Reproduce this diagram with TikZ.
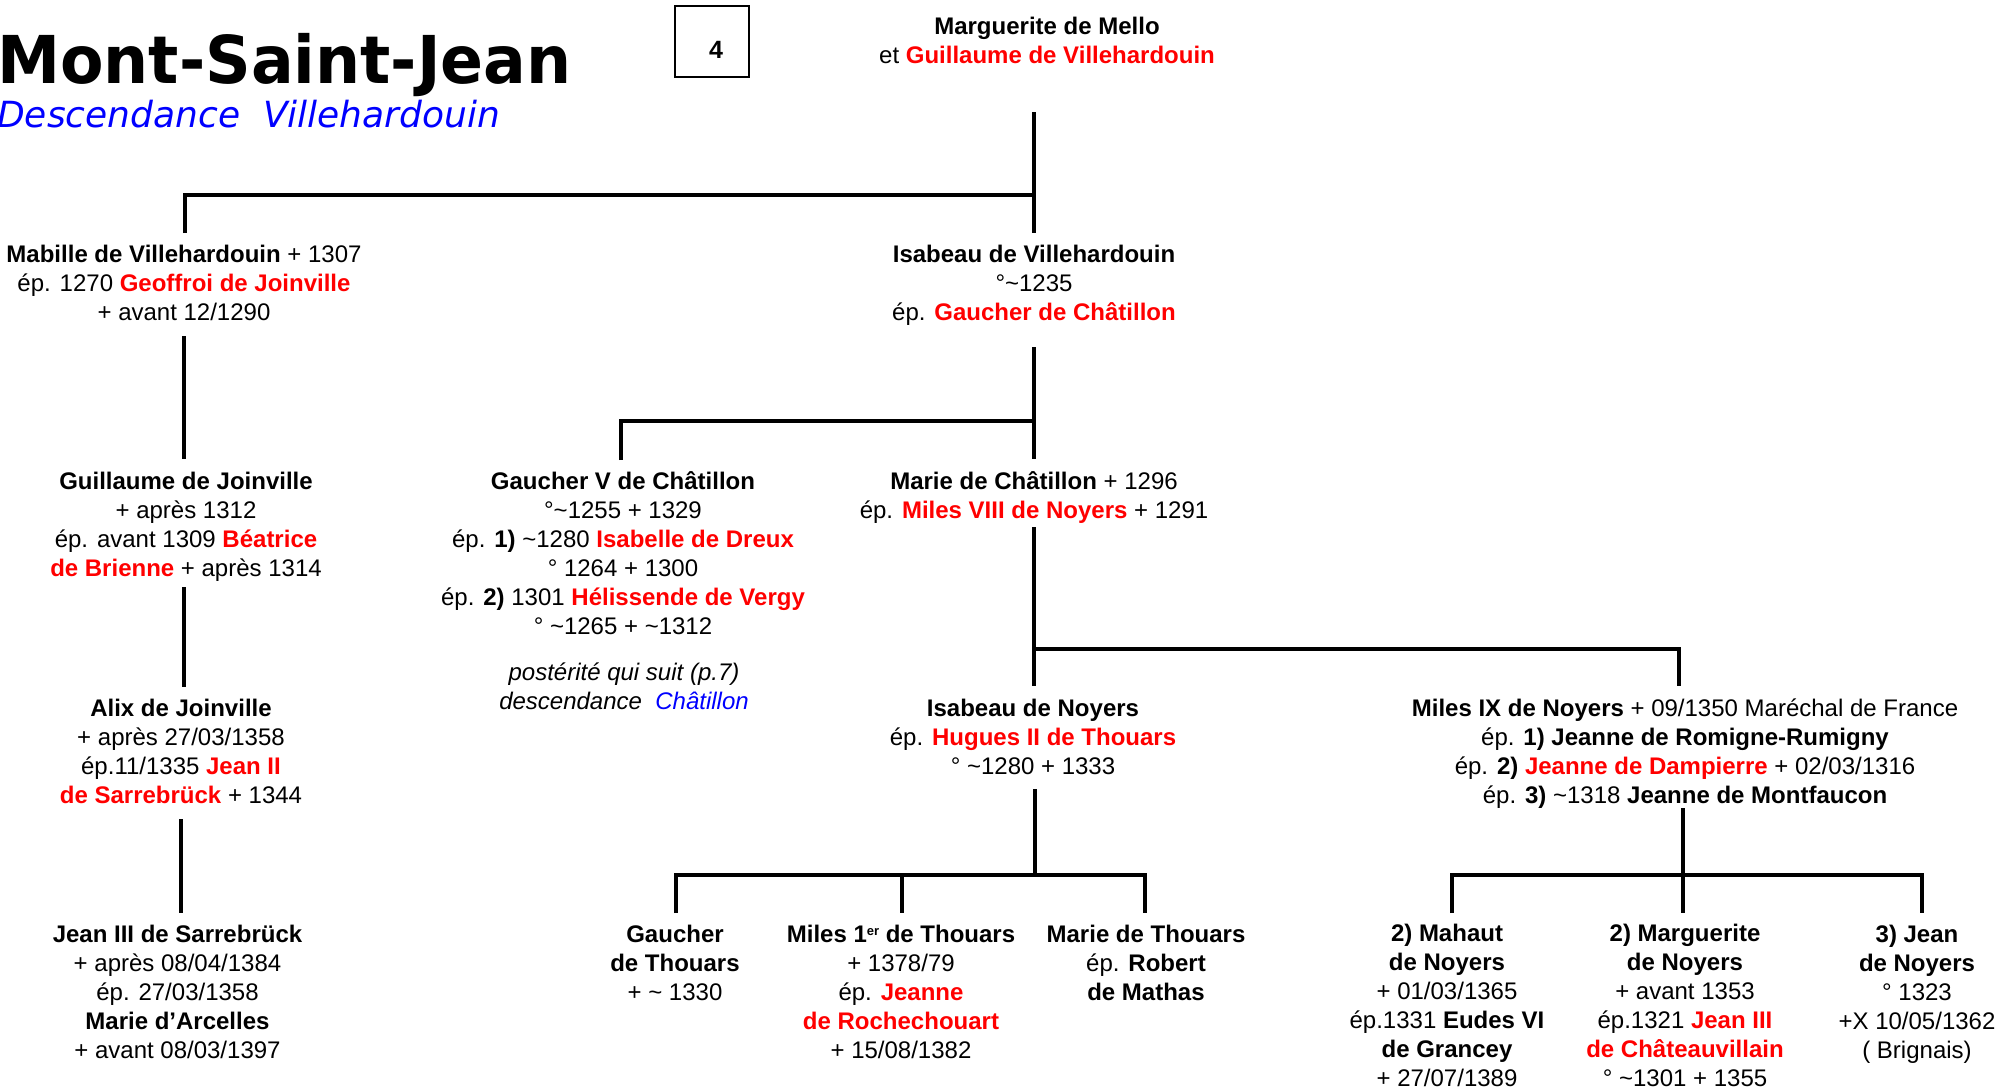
\documentclass[tikz,border=0pt]{standalone}
\usepackage{fontspec}
\setmainfont{Liberation Sans}
\newfontfamily\titlefont{DejaVu Sans}
\newcommand\pname[1]{\textbf{#1}}
\newcommand\rname[1]{\textcolor{red}{\textbf{#1}}}
\newcommand\tld{\textasciitilde}
\begin{document}
\begin{tikzpicture}[x=1pt,y=-1pt,
  person/.style={align=center, font=\fontsize{24}{29}\selectfont, inner sep=0pt, anchor=base},
  link/.style={line width=3.1pt, line join=miter},
  pagebox/.style={draw, line width=1.6pt, minimum width=74pt, minimum height=71pt, inner sep=0pt}]
\useasboundingbox (0,0) rectangle (2001,1088);

% title
\node[anchor=base west, inner sep=0pt, xscale=0.96, transform shape, font=\titlefont\bfseries\fontsize{66}{70}\selectfont] (title) at (-3,83) {Mont-Saint-Jean};
\node[anchor=base west, inner sep=0pt, text=blue, font=\titlefont\itshape\fontsize{36}{40}\selectfont] (subtitle) at (-3,127) {Descendance\ \ Villehardouin};
\node[pagebox] (page) at (712,41.5) {};
\node[anchor=base, inner sep=0pt, font=\bfseries\fontsize{25}{28}\selectfont] (pagenum) at (716,58) {4};

% people (anchor = baseline of the last line)
\node[person] (top) at (1047,63) {\pname{Marguerite de Mello}\\ et \rname{Guillaume de Villehardouin}};

\node[person] (mab) at (184,320) {\pname{Mabille de Villehardouin} + 1307\\ ép. 1270 \rname{Geoffroi de Joinville}\\ + avant 12/1290};
\node[person] (isv) at (1034,320) {\pname{Isabeau de Villehardouin}\\ °\tld1235\\ ép. \rname{Gaucher de Châtillon}};

\node[person] (guil) at (186,576) {\pname{Guillaume de Joinville}\\ + après 1312\\ ép. avant 1309 \rname{Béatrice}\\ \rname{de Brienne} + après 1314};
\node[person] (gauv) at (623,634) {\pname{Gaucher V de Châtillon}\\ °\tld1255 + 1329\\ ép. \pname{1)} \tld1280 \rname{Isabelle de Dreux}\\ ° 1264 + 1300\\ ép. \pname{2)} 1301 \rname{Hélissende de Vergy}\\ ° \tld1265 + \tld1312};
\node[person, font=\itshape\fontsize{24}{29}\selectfont] (post) at (624,709) {postérité qui suit (p.7)\\ descendance\ \ \textcolor{blue}{Châtillon}};
\node[person] (mariec) at (1034,518) {\pname{Marie de Châtillon} + 1296\\ ép. \rname{Miles VIII de Noyers} + 1291};

\node[person] (alix) at (181,803) {\pname{Alix de Joinville}\\ + après 27/03/1358\\ ép.11/1335 \rname{Jean II}\\ \rname{de Sarrebrück} + 1344};
\node[person] (isn) at (1033,774) {\pname{Isabeau de Noyers}\\ ép. \rname{Hugues II de Thouars}\\ ° \tld1280 + 1333};
\node[person] (miles9) at (1685,803) {\pname{Miles IX de Noyers} + 09/1350 Maréchal de France\\ ép. \pname{1) Jeanne de Romigne-Rumigny}\\ ép. \pname{2)} \rname{Jeanne de Dampierre} + 02/03/1316\\ ép. \pname{3)} \tld1318 \pname{Jeanne de Montfaucon}};

\node[person] (jean3) at (177.5,1058) {\pname{Jean III de Sarrebrück}\\ + après 08/04/1384\\ ép. 27/03/1358\\ \pname{Marie d’Arcelles}\\ + avant 08/03/1397};
\node[person] (gaut) at (675,1000) {\pname{Gaucher}\\ \pname{de Thouars}\\ + \tld{} 1330};
\node[person] (miles1) at (901,1058) {\pname{Miles 1\raisebox{7pt}{\fontsize{13}{14}\selectfont er} de Thouars}\\ + 1378/79\\ ép. \rname{Jeanne}\\ \rname{de Rochechouart}\\ + 15/08/1382};
\node[person] (mariet) at (1146,1000) {\pname{Marie de Thouars}\\ ép. \pname{Robert}\\ \pname{de Mathas}};
\node[person] (mahaut) at (1447,1086) {\pname{2) Mahaut}\\ \pname{de Noyers}\\ + 01/03/1365\\ ép.1331 \pname{Eudes VI}\\ \pname{de Grancey}\\ + 27/07/1389};
\node[person] (marg) at (1685,1086) {\pname{2) Marguerite}\\ \pname{de Noyers}\\ + avant 1353\\ ép.1321 \rname{Jean III}\\ \rname{de Châteauvillain}\\ ° \tld1301 + 1355};
\node[person] (jeann) at (1917,1058) {\pname{3) Jean}\\ \pname{de Noyers}\\ ° 1323\\ +X 10/05/1362\\ ( Brignais)};

% junction coordinates
\coordinate (t0) at (1034,112);
\coordinate (t1) at (1034,195);
\coordinate (t2) at (1034,233);
\coordinate (t3) at (185,195);
\coordinate (t4) at (185,233);

\coordinate (m0) at (184,336);
\coordinate (m1) at (184,459);

\coordinate (i0) at (1034,347);
\coordinate (i1) at (1034,421);
\coordinate (i2) at (1034,459);
\coordinate (i3) at (621,421);
\coordinate (i4) at (621,460);

\coordinate (g0) at (184,587);
\coordinate (g1) at (184,687);

\coordinate (c0) at (1034,527);
\coordinate (c1) at (1034,649);
\coordinate (c2) at (1034,686);
\coordinate (c3) at (1679,649);
\coordinate (c4) at (1679,686);

\coordinate (a0) at (181,819);
\coordinate (a1) at (181,913);

\coordinate (n0) at (1035,789);
\coordinate (n1) at (1035,875);
\coordinate (n2) at (676,875);
\coordinate (n3) at (676,913);
\coordinate (n4) at (902,875);
\coordinate (n5) at (902,913);
\coordinate (n6) at (1145,875);
\coordinate (n7) at (1145,913);

\coordinate (k0) at (1683,808);
\coordinate (k1) at (1683,875);
\coordinate (k2) at (1452,875);
\coordinate (k3) at (1452,913);
\coordinate (k4) at (1683,913);
\coordinate (k5) at (1922,875);
\coordinate (k6) at (1922,913);

% connectors
\draw[link] (t0) -- (t2);
\draw[link] (t4) -- (t3) -- (t1);
\draw[link] (m0) -- (m1);
\draw[link] (i0) -- (i2);
\draw[link] (i4) -- (i3) -- (i1);
\draw[link] (g0) -- (g1);
\draw[link] (c0) -- (c2);
\draw[link] (c1) -- (c3) -- (c4);
\draw[link] (a0) -- (a1);
\draw[link] (n0) -- (n1);
\draw[link] (n3) -- (n2) -- (n6) -- (n7);
\draw[link] (n4) -- (n5);
\draw[link] (k0) -- (k4);
\draw[link] (k3) -- (k2) -- (k5) -- (k6);
\end{tikzpicture}
\end{document}
